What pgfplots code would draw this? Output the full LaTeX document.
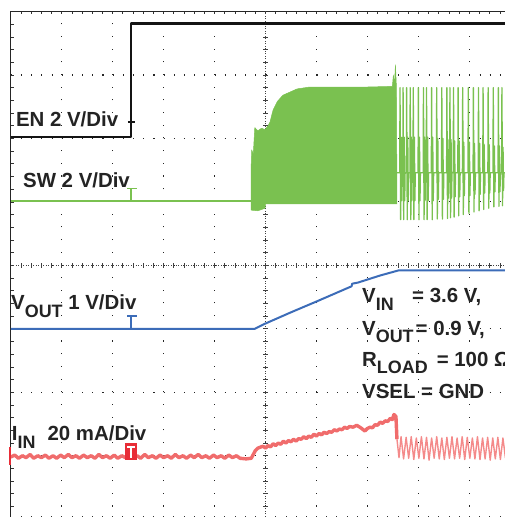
\documentclass[border=0pt]{standalone}
\usepackage{fontspec}
\setmainfont{Liberation Sans}
\usepackage{pgfplots}
\pgfplotsset{compat=1.18}

\definecolor{swgreen}{RGB}{122,193,80}
\definecolor{voblue}{RGB}{60,108,184}
\definecolor{inred}{RGB}{240,108,108}
\definecolor{inlight}{RGB}{244,138,138}
\definecolor{trigred}{RGB}{232,45,55}
\definecolor{txt}{RGB}{35,35,35}

% scope screen: x in divisions (0..10), y in divisions (0..8, centre at 4)
\newcommand{\sub}[1]{\raisebox{-7.5bp}{\fontsize{18}{20}\selectfont #1}}
\tikzset{
  ctr/.style={black!75, line width=0.7bp},
  lbl/.style={anchor=base west, inner sep=0pt, text=txt,
      font=\fontsize{20.5}{24}\selectfont\bfseries},
}

\begin{document}
\begin{tikzpicture}
\begin{axis}[
    name=ax, at={(0,0)}, anchor=south west,
    scale only axis, width=509.5bp, height=507.7bp,
    xmin=0, xmax=10, ymin=0, ymax=8,
    xtick={0,...,10}, ytick={0,...,8},
    minor tick num=4,
    xticklabels={}, yticklabels={},
    tick align=inside,
    major tick length=3bp, minor tick length=3bp,
    tick style={black!80, line width=0.7bp},
    axis line style={black!85, line width=1bp},
    grid=major,
    major x grid style={black!85, line width=1.1bp, dash pattern=on 1.1bp off 11.59bp},
    major y grid style={black!85, line width=1.1bp, dash pattern=on 1.1bp off 9.09bp},
    clip=false,
    every axis plot/.append style={mark=none, line join=round},
]

% centre lines with their small ticks
\draw[ctr, dash pattern=on 1bp off 1.5bp] (axis cs:0,4) -- (axis cs:10,4);
\draw[ctr, dash pattern=on 1bp off 1.5bp] (axis cs:5,0) -- (axis cs:5,8);
\pgfplotsinvokeforeach{1,...,49}{
  \draw[ctr] (axis cs:#1*0.2,4) ++(0,-2.2bp) -- ++(0,4.4bp);
}
\pgfplotsinvokeforeach{1,...,39}{
  \draw[ctr] (axis cs:5,#1*0.2) ++(-2.2bp,0) -- ++(4.4bp,0);
}

% EN
\addplot[black!92, line width=2.6bp] coordinates {
 (0,6.02) (2.36,6.02) (2.36,7.81) (10,7.81)
};

% SW: idle line, switching burst, pulses
\addplot[swgreen, line width=2bp] coordinates {(0,5.01) (4.73,5.01)};
\addplot[draw=swgreen, fill=swgreen, line width=0.5bp] coordinates {
 (4.72,4.87) (4.72,5.60) (4.73,5.82) (4.76,5.75) (4.79,6.17) (4.85,6.12)
 (4.92,6.16) (4.99,6.14) (5.05,6.20) (5.09,6.26) (5.12,6.36) (5.15,6.45)
 (5.23,6.58) (5.34,6.68) (5.48,6.73) (5.62,6.78) (5.87,6.81) (7.00,6.81)
 (7.49,6.82) (7.51,7.00) (7.53,6.83) (7.55,7.16) (7.57,6.80) (7.58,5.00)
 (7.58,4.97) (5.00,4.97) (4.99,4.90) (4.85,4.86) (4.72,4.87)
};
\addplot[swgreen, line width=1.3bp] coordinates {
 (7.58,5.46)
 (7.634,5.46)(7.64,6.80)(7.652,4.72)(7.662,6.02)(7.672,5.02)(7.68,5.46)
 (7.694,5.46)(7.70,6.80)(7.712,4.72)(7.722,6.02)(7.732,5.02)(7.74,5.46)
 (7.764,5.46)(7.77,6.80)(7.782,4.72)(7.792,6.02)(7.802,5.02)(7.81,5.46)
 (7.834,5.46)(7.84,6.80)(7.852,4.72)(7.862,6.02)(7.872,5.02)(7.88,5.46)
 (7.894,5.46)(7.90,6.80)(7.912,4.72)(7.922,6.02)(7.932,5.02)(7.94,5.46)
 (7.994,5.46)(8.00,6.80)(8.012,4.72)(8.022,6.02)(8.032,5.02)(8.04,5.46)
 (8.094,5.46)(8.10,6.80)(8.112,4.72)(8.122,6.02)(8.132,5.02)(8.14,5.46)
 (8.154,5.46)(8.16,6.80)(8.172,4.72)(8.182,6.02)(8.192,5.02)(8.20,5.46)
 (8.254,5.46)(8.26,6.80)(8.272,4.72)(8.282,6.02)(8.292,5.02)(8.30,5.46)
 (8.354,5.46)(8.36,6.80)(8.372,4.73)(8.382,6.00)(8.392,5.04)(8.40,5.46)
 (8.454,5.46)(8.46,6.80)(8.472,4.73)(8.482,6.00)(8.492,5.04)(8.50,5.46)
 (8.554,5.46)(8.56,6.80)(8.572,4.74)(8.582,5.98)(8.592,5.06)(8.60,5.46)
 (8.614,5.46)(8.62,6.80)(8.632,4.75)(8.642,5.98)(8.652,5.06)(8.66,5.46)
 (8.684,5.46)(8.69,6.80)(8.702,4.76)(8.712,5.96)(8.722,5.08)(8.73,5.46)
 (8.774,5.46)(8.78,6.80)(8.792,4.78)(8.802,5.96)(8.812,5.08)(8.82,5.46)
 (8.864,5.46)(8.87,6.80)(8.882,4.80)(8.892,5.94)(8.902,5.10)(8.91,5.46)
 (8.974,5.46)(8.98,6.80)(8.992,4.82)(9.002,5.94)(9.012,5.10)(9.02,5.46)
 (9.074,5.46)(9.08,6.80)(9.092,4.84)(9.102,5.92)(9.112,5.12)(9.12,5.46)
 (9.174,5.46)(9.18,6.80)(9.192,4.86)(9.202,5.92)(9.212,5.12)(9.22,5.46)
 (9.264,5.46)(9.27,6.80)(9.282,4.88)(9.292,5.90)(9.302,5.14)(9.31,5.46)
 (9.364,5.46)(9.37,6.80)(9.382,4.90)(9.392,5.90)(9.402,5.14)(9.41,5.46)
 (9.464,5.46)(9.47,6.80)(9.482,4.92)(9.492,5.88)(9.502,5.16)(9.51,5.46)
 (9.564,5.46)(9.57,6.80)(9.582,4.93)(9.592,5.88)(9.602,5.16)(9.61,5.46)
 (9.634,5.46)(9.64,6.80)(9.652,4.94)(9.662,5.86)(9.672,5.18)(9.68,5.46)
 (9.75,5.46)
};

% VOUT
\addplot[voblue, line width=2bp] coordinates {
 (0,3.00) (4.79,3.00) (4.99,3.08) (5.50,3.26) (6.00,3.43) (6.69,3.67)
 (6.70,3.71) (6.82,3.73) (7.25,3.84) (7.61,3.92) (10,3.92)
};

% IIN
\addplot[inred, line width=3.4bp] coordinates {
 (0,0.98) (0.08,1.01) (0.15,0.96) (0.23,1.00) (0.30,0.97) (0.38,1.02)
 (0.45,0.96) (0.53,1.00) (0.60,0.97) (0.68,1.01) (0.75,0.96) (0.83,1.00)
 (0.90,0.96) (0.98,1.01) (1.05,0.97) (1.13,1.02) (1.20,0.97) (1.28,1.00)
 (1.35,0.96) (1.43,1.01) (1.50,0.97) (1.58,1.00) (1.65,0.96) (1.73,1.02)
 (1.80,0.97) (1.88,1.00) (1.95,0.96) (2.03,1.01) (2.10,0.96) (2.18,1.00)
 (2.25,0.97) (2.33,1.01) (2.40,0.97) (2.48,1.00) (2.55,0.96) (2.63,1.02)
 (2.70,0.97) (2.78,1.00) (2.85,0.96) (2.93,1.01) (3.00,0.97) (3.08,1.00)
 (3.15,0.96) (3.23,1.02) (3.30,0.97) (3.38,1.00) (3.45,0.96) (3.53,1.01)
 (3.60,0.97) (3.68,1.02) (3.75,0.97) (3.83,1.00) (3.90,0.96) (3.98,1.01)
 (4.05,0.97) (4.13,1.00) (4.20,0.96) (4.28,1.01) (4.35,0.97) (4.43,1.00)
 (4.50,0.96) (4.62,0.95) (4.72,0.96) (4.80,1.08) (4.85,1.12) (4.95,1.15)
 (5.00,1.12) (5.05,1.16) (5.10,1.14) (5.15,1.19) (5.20,1.16) (5.25,1.20)
 (5.30,1.18) (5.35,1.23) (5.40,1.20) (5.45,1.24) (5.50,1.22) (5.55,1.26)
 (5.60,1.23) (5.65,1.27) (5.70,1.26) (5.75,1.30) (5.80,1.27) (5.85,1.31)
 (5.90,1.29) (5.95,1.34) (6.00,1.31) (6.05,1.35) (6.10,1.33) (6.15,1.37)
 (6.20,1.35) (6.25,1.38) (6.30,1.37) (6.35,1.41) (6.40,1.39) (6.45,1.42)
 (6.50,1.41) (6.55,1.45) (6.60,1.43) (6.65,1.46) (6.72,1.45) (6.79,1.48)
 (6.87,1.44) (6.95,1.39) (7.00,1.43) (7.05,1.45) (7.10,1.44) (7.15,1.49)
 (7.20,1.48) (7.25,1.53) (7.30,1.51) (7.35,1.55) (7.40,1.54) (7.45,1.59)
 (7.49,1.57) (7.52,1.65) (7.56,1.62) (7.58,1.26)
};
\addplot[inlight, line width=1.4bp] coordinates {
 (7.58,1.26) (7.62,0.97) (7.66,1.30) (7.71,0.95) (7.76,1.29) (7.81,0.96)
 (7.86,1.30) (7.91,0.94) (7.96,1.28) (8.01,0.96) (8.06,1.30) (8.11,0.95)
 (8.16,1.29) (8.21,0.93) (8.26,1.28) (8.31,0.96) (8.36,1.30) (8.41,0.95)
 (8.46,1.28) (8.51,0.94) (8.56,1.29) (8.61,0.96) (8.66,1.30) (8.71,0.95)
 (8.76,1.28) (8.81,0.96) (8.86,1.30) (8.91,0.94) (8.96,1.29) (9.01,0.96)
 (9.06,1.28) (9.11,0.95) (9.16,1.30) (9.21,0.94) (9.26,1.28) (9.31,0.95)
 (9.36,1.29) (9.41,0.93) (9.46,1.28) (9.51,0.95) (9.56,1.29) (9.61,0.94)
 (9.66,1.28) (9.71,0.96)
};

% trigger and ground markers
\draw[black!92, line width=2bp] (axis cs:2.30,6.26) -- (axis cs:2.43,6.26)
      (axis cs:2.365,6.26) -- (axis cs:2.365,6.04);
\draw[swgreen, line width=1.5bp] (axis cs:2.29,5.21) -- (axis cs:2.47,5.21)
      (axis cs:2.36,5.21) -- (axis cs:2.36,5.01);
\draw[voblue, line width=1.5bp] (axis cs:2.29,3.20) -- (axis cs:2.47,3.20)
      (axis cs:2.36,3.20) -- (axis cs:2.36,3.00);
\fill[trigred] (axis cs:2.24,0.93) rectangle (axis cs:2.48,1.20);
\draw[white, line width=1.5bp] (axis cs:2.29,1.14) -- (axis cs:2.43,1.14)
      (axis cs:2.36,1.14) -- (axis cs:2.36,0.97);
\fill[trigred] (axis cs:-0.044,0.85) rectangle (axis cs:0.005,1.14);

% channel labels
\node[lbl] at (axis cs:0.10,6.18) {EN 2 V/Div};
\node[lbl] at (axis cs:0.24,5.22) {SW 2 V/Div};
\node[lbl] at (axis cs:0.005,3.30) {V\sub{OUT} 1 V/Div};
\node[lbl] at (axis cs:0.02,1.24) {I\sub{IN}\hspace{12bp}20 mA/Div};

% conditions
\node[lbl] at (axis cs:6.894,3.41) {V\sub{IN}};
\node[lbl] at (axis cs:7.876,3.41) {= 3.6 V,};
\node[lbl] at (axis cs:6.894,2.90) {V\sub{OUT}\hspace{2bp}= 0.9 V,};
\node[lbl] at (axis cs:6.894,2.41) {R\sub{LOAD}\hspace{9bp}= 100 Ω};
\node[lbl] at (axis cs:6.894,1.90) {VSEL = GND};
\end{axis}
\pgfresetboundingbox
\path[use as bounding box] ([shift={(-10.75bp,2.2bp)}]ax.south west)
    rectangle ([shift={(-16.25bp,11.5bp)}]ax.north east);
\end{tikzpicture}
\end{document}
